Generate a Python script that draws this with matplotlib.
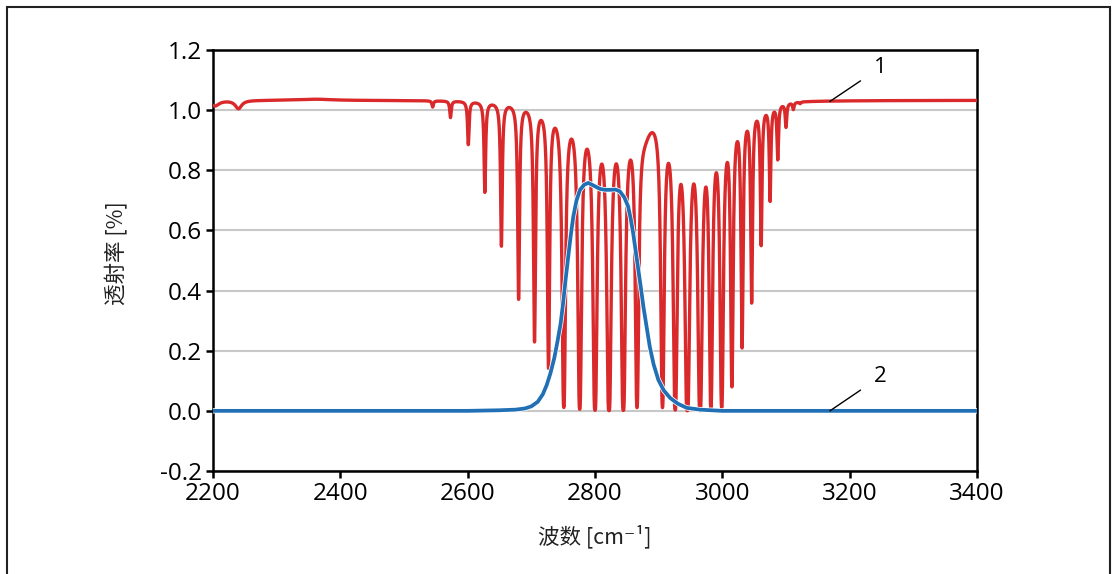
import numpy as np
import matplotlib
matplotlib.use("Agg")
import matplotlib.pyplot as plt
import matplotlib.patheffects as pe
from matplotlib.ticker import FormatStrFormatter

# ---------------- data ----------------
# Absorption line centres of curve 1 (cm-1) and the transmittance at each line minimum
p_centers = [2545, 2573, 2601, 2627, 2653, 2680, 2705, 2727, 2751, 2776, 2800, 2822, 2844.5, 2866]
p_min_T = [1.01, 0.975, 0.885, 0.726, 0.547, 0.369, 0.225, 0.14, 0.014, 0.0, 0.0, 0.0, 0.0, 0.01]
r_centers = [2906, 2926, 2945, 2965, 2982, 2999, 3015, 3031, 3046, 3061, 3075, 3087, 3100, 3111.5, 3122]
r_min_T = [0.01, 0.0, 0.0, 0.0, 0.0, 0.02, 0.075, 0.197, 0.336, 0.519, 0.68, 0.83, 0.94, 1.0, 1.02]
# local maxima of curve 1 between neighbouring lines
gap_wn = [2692, 2714, 2740, 2763, 2788, 2810.5, 2833, 2856, 2873, 2889, 2916, 2935.6, 2955, 2973,
          2991, 3007, 3023, 3039, 3053, 3067]
gap_T = [1.01, 0.996, 0.963, 0.918, 0.863, 0.824, 0.805, 0.832, 0.84, 0.913, 0.825, 0.758, 0.721,
         0.741, 0.807, 0.885, 0.946, 0.985, 1.0, 1.02]
baseline_T = 1.033
# weak broad features of curve 1 (centre, absorbance, half width)
feature_centers = [2203, 2240, 2362, 2878]
feature_absorb = [0.018, 0.027, -0.004, 0.07]
feature_widths = [8, 6, 30, 12]

# curve 2 (filter transmission) read point by point
filter_wn = [2200, 2600, 2650, 2675, 2690, 2700, 2710, 2718, 2724, 2730, 2736, 2741, 2746, 2750,
             2754, 2758, 2762, 2766, 2771, 2776.5, 2783, 2789.5, 2797, 2808, 2816, 2823.6, 2832,
             2839, 2846, 2852, 2856, 2860, 2864, 2868, 2872, 2876, 2881, 2886, 2892, 2899.5, 2908,
             2918, 2930, 2944, 2965, 3000, 3400]
filter_T = [0.0, 0.0, 0.002, 0.004, 0.008, 0.015, 0.03, 0.055, 0.085, 0.125, 0.175, 0.23, 0.29,
            0.36, 0.44, 0.513, 0.585, 0.647, 0.70, 0.735, 0.752, 0.758, 0.75, 0.738, 0.735, 0.735,
            0.736, 0.73, 0.71, 0.68, 0.64, 0.59, 0.53, 0.47, 0.41, 0.347, 0.28, 0.214, 0.155,
            0.103, 0.068, 0.043, 0.024, 0.01, 0.004, 0.0, 0.0]

x_ticks = [2200, 2400, 2600, 2800, 3000, 3200, 3400]
y_ticks = [-0.2, 0.0, 0.2, 0.4, 0.6, 0.8, 1.0, 1.2]
labels = ["1", "2"]

# ---------------- line-shape model for curve 1 ----------------
gamma = 1.35
centers = np.array(p_centers + r_centers, float)
tmin = np.array(p_min_T + r_min_T, float)
n = len(centers)
n_p = len(p_centers)


def prof(nu, c, g):
    nu = np.asarray(nu, float)[:, None]
    return g ** 2 / ((nu - np.asarray(c, float)[None, :]) ** 2 + g ** 2)


def feat(nu):
    fc = np.array(feature_centers, float)[None, :]
    fa = np.array(feature_absorb, float)[None, :]
    fw = np.array(feature_widths, float)[None, :]
    return (fa * fw ** 2 / ((np.asarray(nu, float)[:, None] - fc) ** 2 + fw ** 2)).sum(axis=1)


rows, rhs, w = [], [], []
Mc = prof(centers, centers, gamma)
fc_at_lines = feat(centers)
saturated = tmin < 0.05
for i, t in enumerate(tmin):
    rows.append(Mc[i])
    if not saturated[i]:
        rhs.append(-np.log(t / baseline_T) - fc_at_lines[i]); w.append(1.0)
    else:
        rhs.append(-np.log(0.004 / baseline_T)); w.append(0.03)
Mg = prof(gap_wn, centers, gamma)
fg = feat(gap_wn)
for j, t in enumerate(gap_T):
    rows.append(Mg[j]); rhs.append(-np.log(t / baseline_T) - fg[j]); w.append(4.0)
# smooth variation of line strength along each branch
for lo, hi in [(0, n_p), (n_p, n)]:
    for k in range(lo + 1, hi - 1):
        r = np.zeros(n); r[k - 1] = 1; r[k] = -2; r[k + 1] = 1
        rows.append(r); rhs.append(0.0); w.append(0.03)
rows = np.array(rows) * np.array(w)[:, None]
rhs = np.array(rhs) * np.array(w)

lower = np.where(saturated, 4.5, 0.0)
fixed = np.zeros(n, bool)
A = np.zeros(n)
for _ in range(10):
    free = ~fixed
    b = rhs - rows[:, fixed] @ A[fixed]
    A[free] = np.linalg.lstsq(rows[:, free], b, rcond=None)[0]
    viol = free & (A < lower)
    if not viol.any():
        break
    A[viol] = lower[viol]
    fixed |= viol

nu = np.linspace(2200, 3400, 12001)
absorb = (prof(nu, centers, gamma) * A[None, :]).sum(axis=1) + feat(nu)
trans1 = baseline_T * np.exp(-absorb)

# ---------------- figure ----------------
plt.rcParams['axes.unicode_minus'] = False
fig = plt.figure(figsize=(11.17, 5.74), dpi=100)
ax = fig.add_axes([213 / 1117, 1 - 471 / 574, (977 - 213) / 1117, (471 - 50) / 574])

red = '#d9292b'
blue = '#2170b5'
ax.plot(nu, trans1, color=red, lw=2.4, zorder=3, solid_joinstyle='round')
ax.plot(filter_wn, filter_T, color=blue, lw=2.7, zorder=4, solid_joinstyle='round',
        path_effects=[pe.Stroke(linewidth=3.8, foreground='white'), pe.Normal()])

ax.set_xlim(2200, 3400)
ax.set_ylim(-0.2, 1.2)
ax.set_xticks(x_ticks)
ax.set_yticks(y_ticks)
ax.yaxis.set_major_formatter(FormatStrFormatter('%.1f'))
ax.grid(axis='y', color='#c8c8c8', lw=1.5)
ax.set_axisbelow(True)
for s in ax.spines.values():
    s.set_linewidth(1.8)
    s.set_color('black')
ax.tick_params(direction='out', length=5, width=1.8, pad=3, labelsize=17.5)
for lab in ax.get_xticklabels() + ax.get_yticklabels():
    lab.set_fontfamily(['Open Sans', 'DejaVu Sans'])

cjk = ['Noto Sans CJK SC', 'DejaVu Sans']
fig.text(117 / 1117, 1 - 253 / 574, '透射率 [%]', rotation=90, ha='center', va='center',
         fontsize=15.5, family=cjk, color='#222222')
fig.text(595 / 1117, 1 - 537 / 574, '波数 [cm⁻¹]', ha='center', va='center',
         fontsize=15.5, family=cjk, color='#222222')

# labels for the two curves
ann_xy = [(3169, 1.029), (3169, 0.0)]
ann_text = [(3247.7, 1.141), (3247.7, 0.113)]
for lab, xy, xt in zip(labels, ann_xy, ann_text):
    ax.annotate(lab, xy=xy, xytext=xt, ha='center', va='center', fontsize=16,
                family=['Open Sans', 'DejaVu Sans'], zorder=5,
                arrowprops=dict(arrowstyle='-', color='black', lw=1.0, shrinkA=9, shrinkB=0))

# figure frame
fig.patches.append(plt.Rectangle((7 / 1117, -0.1), (1110 - 7) / 1117, 1.1 - 7 / 574,
                                 transform=fig.transFigure, fill=False, ec='#222222', lw=1.5))

fig.savefig('out.png', dpi=100)
